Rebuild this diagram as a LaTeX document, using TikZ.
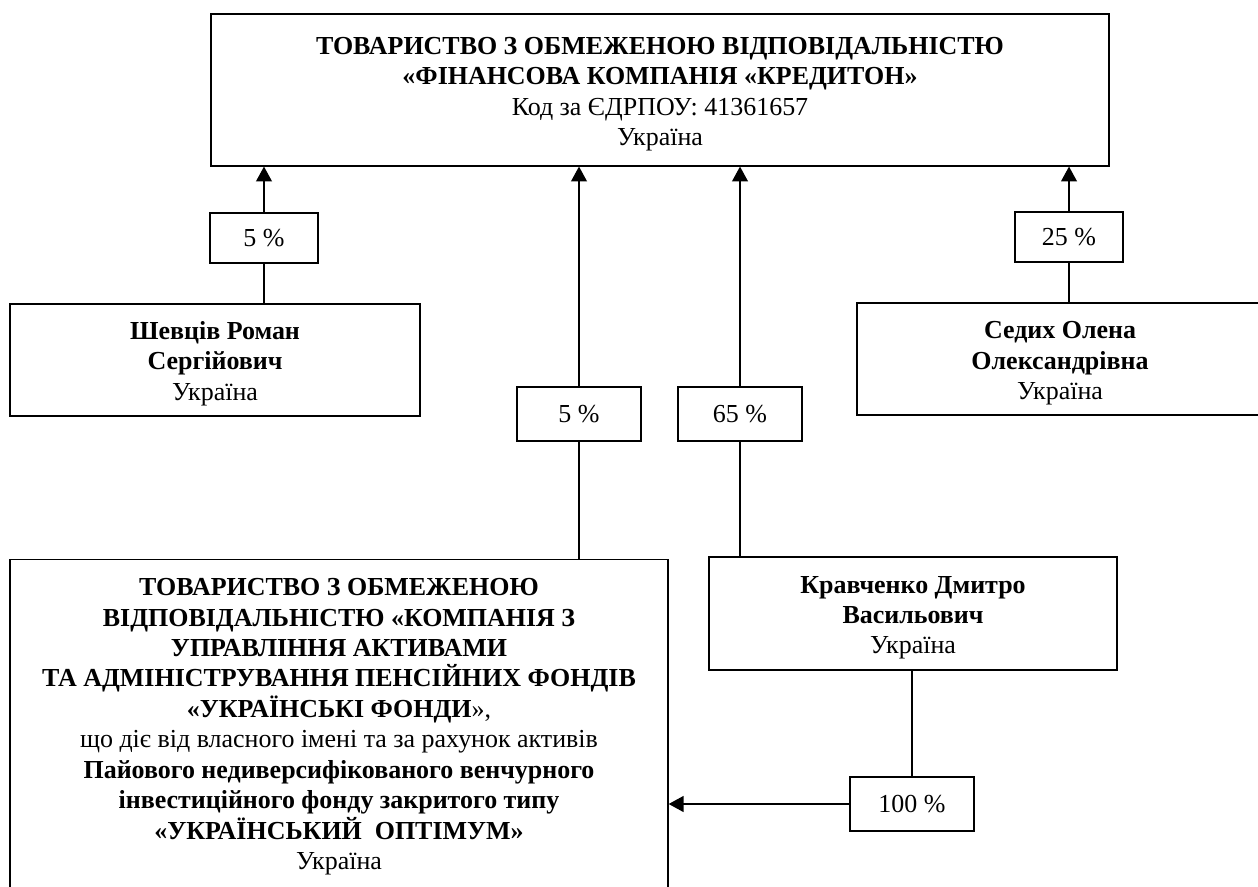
\documentclass[tikz,border=0pt]{standalone}
\usepackage{fontspec}
\setmainfont{Liberation Serif}
\usetikzlibrary{arrows.meta}

\begin{document}
\begin{tikzpicture}[x=0.47pt,y=-0.47pt,
		box/.style={draw,line width=0.6pt,align=center,inner sep=0pt,font=\fontsize{12.2}{14.3}\selectfont},
		share/.style={draw,line width=0.6pt,inner sep=0pt,font=\fontsize{12.2}{14.3}\selectfont},
		link/.style={line width=0.6pt},
		tip/.style={line width=0.6pt,-{Triangle[length=7pt,width=7.5pt]}}]
				\useasboundingbox (0,0) rectangle (1258,887);
				\clip (0,0) rectangle (1258,887);
				% companies and persons
				\draw(660,90) node[box,minimum width=422.1pt,minimum height=71.4pt](fk){\rule{0pt}{12pt}\textbf{ТОВАРИСТВО З ОБМЕЖЕНОЮ ВІДПОВІДАЛЬНІСТЮ}\\\textbf{«ФІНАНСОВА КОМПАНІЯ «КРЕДИТОН»}\\Код за ЄДРПОУ: 41361657\\Україна};
				\draw(215,360) node[box,minimum width=192.7pt,minimum height=52.6pt](shev){\rule{0pt}{12pt}\textbf{Шевців Роман}\\\textbf{Сергійович}\\Україна};
				\draw(1060,359) node[box,minimum width=190.8pt,minimum height=52.6pt](sed){\rule{0pt}{12pt}\textbf{Седих Олена}\\\textbf{Олександрівна}\\Україна};
				\draw(913,613.5) node[box,minimum width=191.8pt,minimum height=53.1pt](krav){\rule{0pt}{12pt}\textbf{Кравченко Дмитро}\\\textbf{Васильович}\\Україна};
				\draw(339,559) node[box,anchor=north,minimum width=309.3pt,minimum height=154.6pt](uf){\rule{0pt}{10.5pt}\textbf{ТОВАРИСТВО З ОБМЕЖЕНОЮ}\\\textbf{ВІДПОВІДАЛЬНІСТЮ «КОМПАНІЯ З}\\\textbf{УПРАВЛІННЯ АКТИВАМИ}\\\textbf{ТА АДМІНІСТРУВАННЯ ПЕНСІЙНИХ ФОНДІВ}\\\textbf{«УКРАЇНСЬКІ ФОНДИ}»,\\що діє від власного імені та за рахунок активів\\\textbf{Пайового недиверсифікованого венчурного}\\\textbf{інвестиційного фонду закритого типу}\\\textbf{«УКРАЇНСЬКИЙ~ ОПТІМУМ»}\\Україна};
				% shares
				\draw(264,238) node[share,minimum width=50.8pt,minimum height=23.5pt](p1){5 \%};
				\draw(1069,237) node[share,minimum width=50.8pt,minimum height=23.5pt](p4){25 \%};
				\draw(579,414) node[share,minimum width=58.3pt,minimum height=25.4pt](p2){5 \%};
				\draw(740,414) node[share,minimum width=58.3pt,minimum height=25.4pt](p3){65 \%};
				\draw(912,804) node[share,minimum width=58.3pt,minimum height=25.4pt](p5){100 \%};
				% links
				\draw[tip](p1.north) -- (p1.north |- fk.south);
				\draw[tip](p2.north) -- (p2.north |- fk.south);
				\draw[tip](p3.north) -- (p3.north |- fk.south);
				\draw[tip](p4.north) -- (p4.north |- fk.south);
				\draw[link](p1.south) -- (p1.south |- shev.north);
				\draw[link](p4.south) -- (p4.south |- sed.north);
				\draw[link](p2.south) -- (p2.south |- uf.north);
				\draw[link](p3.south) -- (p3.south |- krav.north);
				\draw[link](p5.north) -- (p5.north |- krav.south);
				\draw[tip](p5.west) -- (p5.west -| uf.east);
\end{tikzpicture}
\end{document}
